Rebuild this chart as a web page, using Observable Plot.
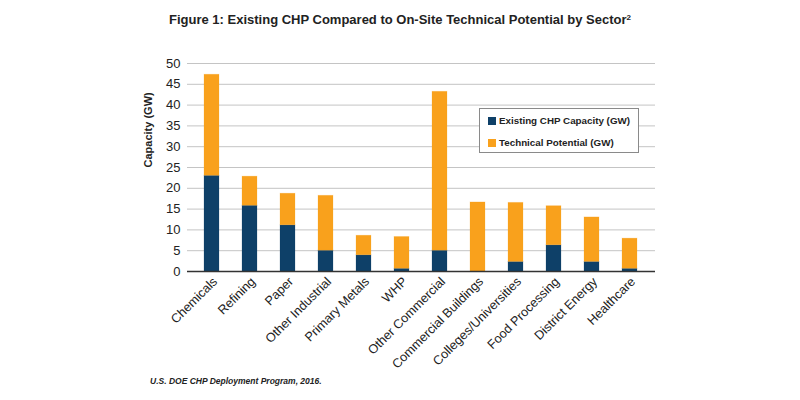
<!DOCTYPE html>
<html>
<head>
<meta charset="utf-8">
<script src="https://cdn.jsdelivr.net/npm/d3@7"></script>
<script src="https://cdn.jsdelivr.net/npm/@observablehq/plot@0.6"></script>
<style>
  html, body { margin: 0; padding: 0; background: #fff; }
  #wrap { position: relative; width: 800px; height: 400px; font-family: "Liberation Sans", Arial, sans-serif; color: #222; }
  #title { box-sizing: border-box; height: 38px; padding-top: 12px; line-height: 16px; text-align: center; font-size: 13px; font-weight: bold; padding-left: 0; }
  #title sup { font-size: 8px; vertical-align: 4px; line-height: 0; }
  #chart svg { overflow: visible; }
  #caption { box-sizing: border-box; padding-left: 150px; padding-top: 2px; line-height: 10px; font-size: 8.5px; font-weight: bold; font-style: italic; }
  #legend { position: absolute; left: 479px; top: 108px; width: 160px; height: 45px; box-sizing: border-box; border: 1.5px solid #8a8a8a; background: #fff; font-size: 9.8px; font-weight: bold; }
  #legend .row { position: absolute; left: 8px; display: flex; align-items: center; white-space: nowrap; }
  #legend .sw { width: 8px; height: 8px; margin-right: 3px; display: inline-block; }
</style>
</head>
<body>
<div id="wrap">
  <div id="title">Figure 1: Existing CHP Compared to On-Site Technical Potential by Sector<sup>2</sup></div>
  <div id="chart"></div>
  <div id="caption">U.S. DOE CHP Deployment Program, 2016.</div>
  <div id="legend"></div>
</div>
<script>
const sectors = ["Chemicals", "Refining", "Paper", "Other Industrial", "Primary Metals", "WHP", "Other Commercial", "Commercial Buildings", "Colleges/Universities", "Food Processing", "District Energy", "Healthcare"];
const existing = [23.0, 15.8, 11.1, 5.0, 3.9, 0.65, 5.0, 0, 2.3, 6.3, 2.3, 0.65];
const totals = [47.3, 22.8, 18.7, 18.2, 8.6, 8.3, 43.2, 16.6, 16.5, 15.7, 13.0, 7.9];
const seriesNames = ["Existing CHP Capacity (GW)", "Technical Potential (GW)"];
const seriesColors = ["#0e4068", "#f9a11c"];
const yTicks = [0, 5, 10, 15, 20, 25, 30, 35, 40, 45, 50];

const data = [];
sectors.forEach((s, i) => data.push({sector: s, series: seriesNames[0], value: existing[i]}));
sectors.forEach((s, i) => data.push({sector: s, series: seriesNames[1], value: +(totals[i] - existing[i]).toFixed(2)}));

const chart = Plot.plot({
  width: 800,
  height: 336,
  marginTop: 25,
  marginBottom: 103,
  marginLeft: 187,
  marginRight: 145,
  style: {fontFamily: "Liberation Sans, Arial, sans-serif", fontSize: "13px", color: "#222", background: "#fff"},
  x: {domain: sectors, paddingInner: 0.6, paddingOuter: 0.32, label: null},
  y: {domain: [0, 50], label: null},
  color: {domain: seriesNames, range: seriesColors},
  marks: [
    Plot.gridY(yTicks, {stroke: "#c4c4c4", strokeOpacity: 1, strokeWidth: 1}),
    Plot.barY(data, Plot.stackY({x: "sector", y: "value", fill: "series", order: seriesNames, stroke: "series", strokeOpacity: 0.25, strokeWidth: 0.8})),
    Plot.ruleY([0], {stroke: "#333", strokeWidth: 1.5}),
    Plot.axisY(yTicks, {tickSize: 0, tickPadding: 7, fontSize: 13, label: null}),
    Plot.axisX({tickSize: 0, tickPadding: 8, dx: 3, tickRotate: -45, fontSize: 12.7, label: null}),
    Plot.text(["Capacity (GW)"], {frameAnchor: "left", dx: -39, rotate: -90, fontWeight: "bold", fontSize: 11, fill: "#222"})
  ]
});
document.getElementById("chart").appendChild(chart);

const legend = document.getElementById("legend");
const rowTops = [6, 28];
seriesNames.forEach((name, i) => {
  const row = document.createElement("div");
  row.className = "row";
  row.style.top = rowTops[i] + "px";
  row.innerHTML = `<span class="sw" style="background:${seriesColors[i]}"></span><span>${name}</span>`;
  legend.appendChild(row);
});
</script>
</body>
</html>
